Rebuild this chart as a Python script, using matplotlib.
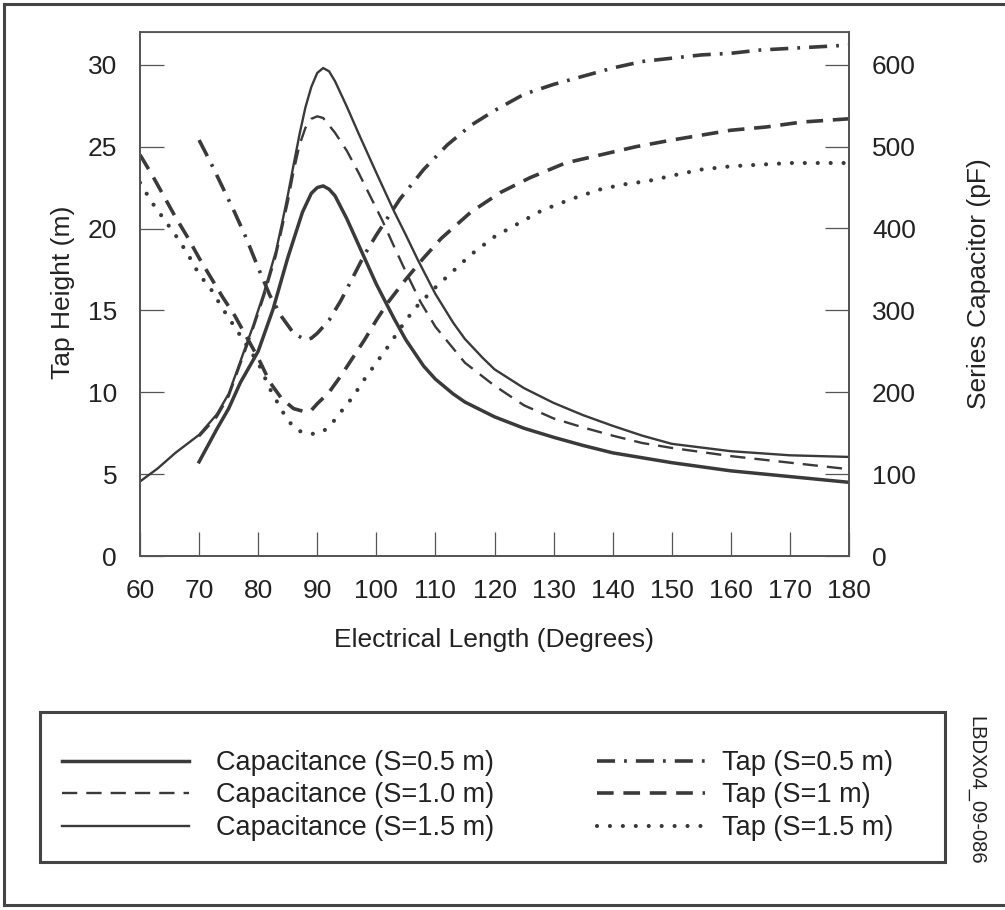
import matplotlib
matplotlib.use('Agg')
import matplotlib.pyplot as plt
from matplotlib.lines import Line2D
from matplotlib.patches import Rectangle

plt.rcParams['font.family'] = ['Liberation Sans', 'DejaVu Sans']
plt.rcParams['lines.scale_dashes'] = False

# Series capacitor (pF), right axis
cap05_x = [70, 73, 75, 77, 80, 82.5, 85, 87.5, 89, 90, 91, 92, 93, 95, 97, 100, 103, 105,
           108, 110, 113, 115, 120, 125, 130, 135, 140, 145, 150, 160, 170, 180]
cap05_pf = [115, 155, 180, 212, 250, 301, 364, 420, 443, 450, 452, 448, 440, 412, 380, 332,
            290, 264, 232, 216, 198, 188, 170, 156, 145, 135, 126, 120, 114, 104, 97, 90]

cap10_x = [70, 73, 75, 77, 79, 81, 83, 85, 86, 87, 88, 89, 90, 91, 93, 95, 97, 99, 101, 103,
           105, 107.5, 110, 115, 120, 125, 130, 135, 140, 145, 150, 160, 170, 180]
cap10_pf = [146, 170, 195, 235, 275, 318, 367, 432, 470, 502, 523, 534, 537, 535, 517, 495,
            468, 439, 410, 378, 347, 310, 280, 236, 208, 184, 168, 157, 147, 138, 132, 122,
            114, 106]

cap15_x = [60, 63, 66, 70, 73, 75, 77, 79, 81, 83, 84, 85, 86, 87, 88, 89, 90, 91, 92, 93,
           95, 97, 100, 103, 105, 107, 110, 113, 115, 118, 120, 125, 130, 135, 140, 145, 150,
           160, 170, 180]
cap15_pf = [91, 107, 126, 148, 173, 198, 238, 278, 322, 372, 405, 440, 478, 515, 548, 573,
            590, 596, 592, 580, 549, 516, 468, 421, 392, 362, 320, 285, 265, 242, 228, 205,
            187, 172, 159, 147, 137, 128, 123, 121]

# Tap height (m), left axis
tap05_x = [70, 72, 74, 76, 78, 80, 82, 84, 86, 88, 89, 90, 92, 94, 96, 98, 100, 104, 108,
           112, 116, 120, 125, 130, 135, 140, 145, 150, 155, 160, 165, 170, 175, 180]
tap05_m = [25.4, 24.0, 22.5, 21.0, 19.4, 17.6, 15.9, 14.6, 13.6, 13.2, 13.3, 13.6, 14.4,
           15.6, 17.0, 18.4, 19.6, 21.8, 23.6, 25.1, 26.3, 27.2, 28.2, 28.8, 29.3, 29.8,
           30.2, 30.4, 30.6, 30.7, 30.9, 31.0, 31.1, 31.2]

tap1_x = [60, 62, 64, 66, 68, 70, 72, 74, 76, 78, 80, 82, 84, 86, 88, 89, 90, 92, 94, 96,
          98, 100, 102, 105, 108, 111, 116, 121, 126, 132, 138, 144, 150, 155, 160, 166, 172, 180]
tap1_m = [24.5, 23.3, 22.0, 20.7, 19.5, 18.2, 17.0, 15.8, 14.7, 13.4, 12.1, 10.6, 9.6, 9.0,
          8.8, 8.9, 9.3, 10.0, 11.0, 12.1, 13.2, 14.4, 15.5, 16.9, 18.2, 19.4, 21.0, 22.2,
          23.1, 24.0, 24.5, 25.0, 25.4, 25.7, 26.0, 26.2, 26.5, 26.7]

tap15_x = [60, 62, 64, 66, 68, 70, 72, 74, 76, 78, 80, 82, 84, 85, 86.5, 88, 89, 90, 91,
           92.5, 94, 96, 98, 100, 102, 105, 107, 110, 113, 116, 120, 124, 128, 133, 138,
           142, 146, 151, 155, 160, 165, 170, 180]
tap15_m = [22.8, 21.6, 20.6, 19.6, 18.5, 17.2, 16.3, 15.1, 14.0, 12.9, 11.8, 10.2, 8.9, 8.3,
           7.7, 7.5, 7.45, 7.5, 7.6, 8.1, 8.8, 9.7, 10.8, 11.8, 12.8, 14.4, 15.3, 16.4, 17.4,
           18.4, 19.5, 20.3, 21.1, 21.8, 22.4, 22.7, 22.9, 23.3, 23.6, 23.8, 23.9, 24.0, 24.0]

cap_labels = ['Capacitance (S=0.5 m)', 'Capacitance (S=1.0 m)', 'Capacitance (S=1.5 m)']
tap_labels = ['Tap (S=0.5 m)', 'Tap (S=1 m)', 'Tap (S=1.5 m)']

x_ticks = list(range(60, 181, 10))
left_ticks = list(range(0, 31, 5))
right_ticks = list(range(0, 601, 100))

W, H = 1005, 910
ink = '#3a3a3a'
axc = '#555555'
txt = '#222222'
fs = 19

fig = plt.figure(figsize=(W / 100, H / 100), dpi=100)
ax = fig.add_axes([140 / W, 1 - 556 / H, 709 / W, 524 / H])
ax2 = ax.twinx()

# tap curves
l_t05, = ax.plot(tap05_x, tap05_m, color=ink, lw=2.6, linestyle=(0, (13, 6.5, 2, 6.5)),
                 dash_capstyle='butt')
l_t1, = ax.plot(tap1_x, tap1_m, color=ink, lw=2.6, linestyle=(0, (12, 7)),
                dash_capstyle='butt')
l_t15, = ax.plot(tap15_x, tap15_m, color=ink, lw=3.0, linestyle=(0, (0.01, 9.3)),
                 dash_capstyle='round')

# capacitance curves
l_c10, = ax2.plot(cap10_x, cap10_pf, color=ink, lw=1.7, linestyle=(0, (11, 6.5)),
                  dash_capstyle='butt')
l_c05, = ax2.plot(cap05_x, cap05_pf, color=ink, lw=2.5)
l_c15, = ax2.plot(cap15_x, cap15_pf, color=ink, lw=1.7)

ax.set_xlim(60, 180)
ax.set_ylim(0, 32)
ax2.set_ylim(0, 640)
ax.set_xticks(x_ticks)
ax.set_yticks(left_ticks)
ax2.set_yticks(right_ticks)

ax.tick_params(direction='in', length=17, width=0.9, color=axc, pad=16.5,
               labelsize=fs, labelcolor=txt, top=False, right=False)
ax2.tick_params(direction='in', length=17, width=0.9, color=axc, pad=16.5,
                labelsize=fs, labelcolor=txt)

for a in (ax, ax2):
    for s in a.spines.values():
        s.set_color(axc)
        s.set_linewidth(1.3)
ax.spines['top'].set_linewidth(0.8)

fig.text(63 / W, 1 - 292 / H, 'Tap Height (m)', rotation=90, ha='center', va='center',
         fontsize=fs, color=txt)
fig.text(979 / W, 1 - 284 / H, 'Series Capacitor (pF)', rotation=90, ha='center',
         va='center', fontsize=fs, color=txt)
fig.text(494 / W, 1 - 640 / H, 'Electrical Length (Degrees)', ha='center', va='center',
         fontsize=fs, color=txt)

# legend box with two columns
fig.patches.append(Rectangle((40 / W, 1 - 862 / H), 905 / W, 150 / H, transform=fig.transFigure,
                             fill=False, edgecolor='#444444', lw=2.2))
leg_opts = dict(loc='upper left', frameon=False, fontsize=19.5, borderpad=0,
                borderaxespad=0, labelspacing=0.24)
leg1 = fig.legend([l_c05, l_c10, l_c15], cap_labels, bbox_to_anchor=(62 / W, 1 - 750 / H),
                  handlelength=4.7, handletextpad=1.0, **leg_opts)
leg2 = fig.legend([l_t05, l_t1, l_t15], tap_labels, bbox_to_anchor=(597 / W, 1 - 750 / H),
                  handlelength=4.0, handletextpad=0.6, **leg_opts)
for lg in (leg1, leg2):
    for t in lg.get_texts():
        t.set_color(txt)

fig.text(976 / W, 1 - 790 / H, 'LBDX04_09-086', rotation=-90, ha='center', va='center',
         fontsize=14.5, color=txt)

# outer frame (left, top, bottom)
for xs, ys in [((4, 4), (4, 905)), ((4, W), (4, 4)), ((4, W), (905, 905))]:
    fig.lines.append(Line2D([x / W for x in xs], [1 - y / H for y in ys],
                            transform=fig.transFigure, color='#444444', lw=2.2))

fig.savefig('out.png', dpi=100)
